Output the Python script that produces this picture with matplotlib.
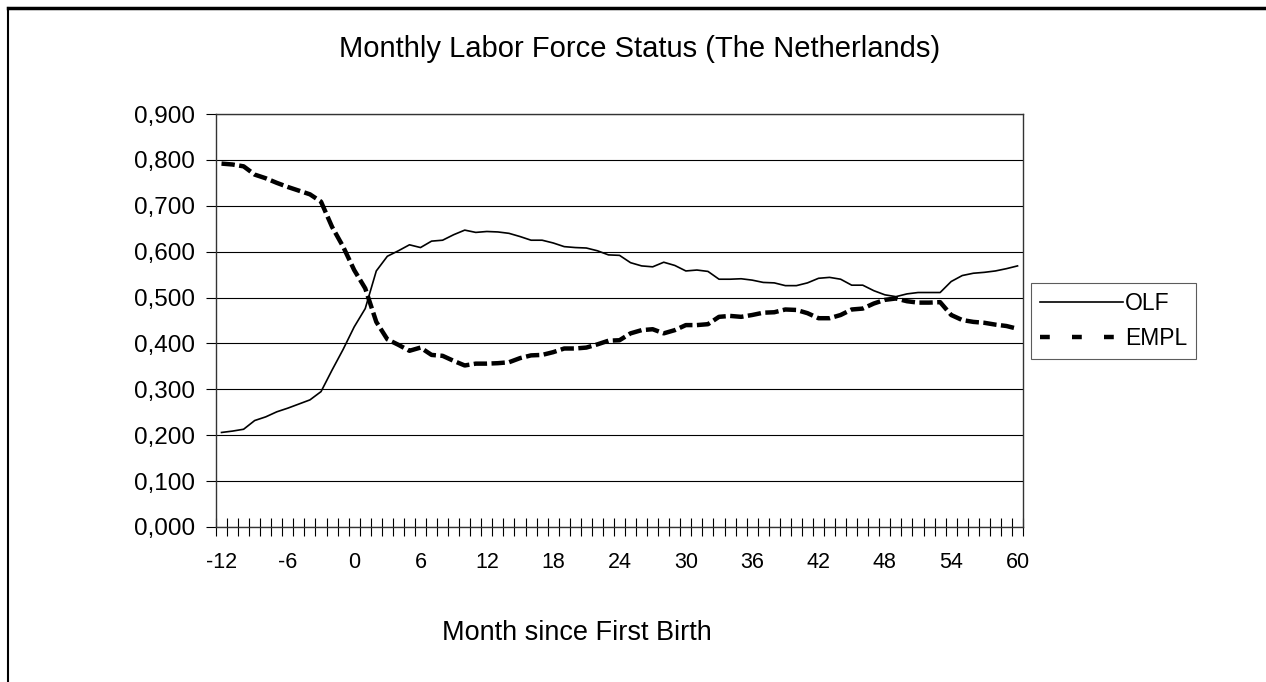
import matplotlib.pyplot as plt
from matplotlib.ticker import FuncFormatter, MultipleLocator
from matplotlib.lines import Line2D
import numpy as np

plt.rcParams['font.family'] = ['Liberation Sans', 'DejaVu Sans']
plt.rcParams['axes.unicode_minus'] = False

# months since first birth, -12 .. 60
months = list(range(-12, 61))

olf = [0.206, 0.209, 0.213, 0.232, 0.240, 0.251, 0.259, 0.268, 0.277, 0.295,
       0.342, 0.387, 0.436, 0.476, 0.558, 0.590, 0.602, 0.615, 0.609, 0.623,
       0.625, 0.637, 0.647, 0.642, 0.644, 0.643, 0.640, 0.633, 0.625, 0.625,
       0.619, 0.611, 0.609, 0.608, 0.602, 0.593, 0.592, 0.576, 0.569, 0.567,
       0.577, 0.570, 0.558, 0.560, 0.557, 0.540, 0.540, 0.541, 0.538, 0.533,
       0.532, 0.526, 0.526, 0.532, 0.542, 0.544, 0.540, 0.527, 0.527, 0.515,
       0.506, 0.502, 0.508, 0.511, 0.511, 0.511, 0.535, 0.548, 0.553, 0.555,
       0.558, 0.563, 0.569]

empl = [0.792, 0.790, 0.786, 0.768, 0.760, 0.750, 0.741, 0.733, 0.725, 0.709,
        0.654, 0.611, 0.560, 0.520, 0.447, 0.409, 0.397, 0.384, 0.391, 0.375,
        0.373, 0.362, 0.352, 0.356, 0.356, 0.357, 0.359, 0.368, 0.374, 0.375,
        0.381, 0.389, 0.389, 0.391, 0.398, 0.406, 0.407, 0.422, 0.429, 0.431,
        0.422, 0.429, 0.440, 0.440, 0.442, 0.458, 0.460, 0.458, 0.462, 0.467,
        0.468, 0.474, 0.473, 0.466, 0.455, 0.455, 0.462, 0.474, 0.476, 0.487,
        0.495, 0.498, 0.492, 0.489, 0.489, 0.490, 0.462, 0.451, 0.447, 0.445,
        0.441, 0.438, 0.432]

fig = plt.figure(figsize=(12.66, 6.82), dpi=100)
ax = fig.add_axes([0.1706, 0.2273, 0.6375, 0.6055])

ax.plot(months, olf, color='black', lw=1.2, label='OLF')
ax.plot(months, empl, color='black', lw=3.2, linestyle=(0, (3, 1)), label='EMPL')

ax.set_xlim(-12.5, 60.5)
ax.set_ylim(0, 0.9)

# y axis: comma decimals, gridlines every 0.1
ax.yaxis.set_major_locator(MultipleLocator(0.1))
ax.yaxis.set_major_formatter(FuncFormatter(lambda v, p: f"{v:.3f}".replace('.', ',')))
ax.grid(axis='y', color='black', lw=0.8)
ax.set_axisbelow(True)
ax.tick_params(axis='y', direction='out', length=7, width=0.8, labelsize=17.5, pad=8)

# x axis: crossing ticks between categories, labels every 6 months
ax.set_xticks(np.arange(-12.5, 61, 1), minor=True)
ax.set_xticks(range(-12, 61, 6))
ax.tick_params(axis='x', which='major', length=0, labelsize=15.5, pad=18)
ax.tick_params(axis='x', which='minor', direction='inout', length=13, width=0.8)

for s in ax.spines.values():
    s.set_color('#333333')
    s.set_linewidth(1.0)

fig.text(0.505, 0.928, 'Monthly Labor Force Status (The Netherlands)',
         ha='center', va='center', fontsize=21)
fig.text(442 / 1266, 0.072, 'Month since First Birth', ha='left', va='center', fontsize=19.5)

handles = [Line2D([], [], color='black', lw=1.2),
           Line2D([], [], color='black', lw=3.2, linestyle=(0, (2.2, 5.0)))]
leg = fig.legend(handles, ['OLF', 'EMPL'], loc='upper left',
                 bbox_to_anchor=(1031 / 1266, 1 - 283 / 682), fontsize=16.5,
                 frameon=True, fancybox=False, edgecolor='#333333',
                 handlelength=3.6, handletextpad=0.1, borderpad=0.4,
                 labelspacing=0.5, borderaxespad=0)
leg.get_frame().set_linewidth(0.8)

# outer chart border (left and top edges visible)
fig.add_artist(Line2D([0.0063, 0.0063], [0, 0.988], color='black', lw=1.5))
fig.add_artist(Line2D([0.0063, 1.0], [0.988, 0.988], color='black', lw=2.5))

fig.savefig('out.png', dpi=100)
